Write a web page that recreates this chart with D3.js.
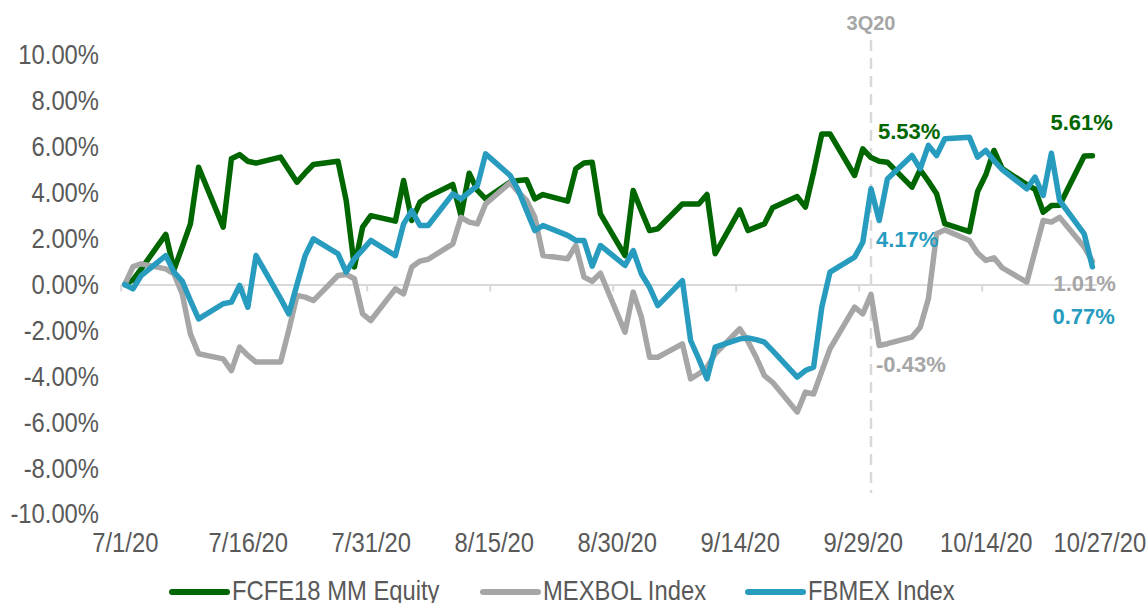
<!DOCTYPE html>
<html>
<head>
<meta charset="utf-8">
<script src="https://cdn.jsdelivr.net/npm/d3@7"></script>
<style>
  html, body { margin: 0; padding: 0; background: #ffffff; }
  svg { display: block; }
  .label { font-family: 'Liberation Sans', Arial, sans-serif; }
  .bold { font-family: 'Liberation Sans', Arial, sans-serif; font-weight: bold; }
</style>
</head>
<body>
<svg id="chart" width="1148" height="603"></svg>
<script>
// Trading days, 1 Jul 2020 – 27 Oct 2020
const dates = [
  "2020-07-01","2020-07-02","2020-07-03","2020-07-06","2020-07-07","2020-07-08","2020-07-09","2020-07-10",
  "2020-07-13","2020-07-14","2020-07-15","2020-07-16","2020-07-17","2020-07-20","2020-07-21","2020-07-22",
  "2020-07-23","2020-07-24","2020-07-27","2020-07-28","2020-07-29","2020-07-30","2020-07-31",
  "2020-08-03","2020-08-04","2020-08-05","2020-08-06","2020-08-07","2020-08-10","2020-08-11","2020-08-12",
  "2020-08-13","2020-08-14","2020-08-17","2020-08-18","2020-08-19","2020-08-20","2020-08-21","2020-08-24",
  "2020-08-25","2020-08-26","2020-08-27","2020-08-28","2020-08-31",
  "2020-09-01","2020-09-02","2020-09-03","2020-09-04","2020-09-07","2020-09-08","2020-09-09","2020-09-10",
  "2020-09-11","2020-09-14","2020-09-15","2020-09-16","2020-09-17","2020-09-18","2020-09-21","2020-09-22",
  "2020-09-23","2020-09-24","2020-09-25","2020-09-28","2020-09-29","2020-09-30",
  "2020-10-01","2020-10-02","2020-10-05","2020-10-06","2020-10-07","2020-10-08","2020-10-09","2020-10-12",
  "2020-10-13","2020-10-14","2020-10-15","2020-10-16","2020-10-19","2020-10-20","2020-10-21","2020-10-22",
  "2020-10-23","2020-10-26","2020-10-27"
];

// Cumulative return since 1 Jul 2020, in percent
const fcfe18 = [
  0, 0.2, 0.68, 2.18, 0.65, 1.63, 2.64, 5.11, 2.5, 5.48, 5.66, 5.37, 5.29, 5.55, 5.0, 4.46,
  4.86, 5.23, 5.37, 3.66, 0.76, 2.5, 3.0,
  2.76, 4.53, 2.79, 3.59, 3.83, 4.36, 3.0, 4.85, 4.1, 3.73, 4.46, 4.53, 4.56, 3.73, 3.92, 3.63,
  5.04, 5.29, 5.33, 3.08, 1.26,
  4.1, 3.2, 2.35, 2.43, 3.51, 3.51, 3.51, 3.92, 1.34, 3.25, 2.35, 2.5, 2.64, 3.34, 3.83, 3.37,
  4.9, 6.56, 6.56, 4.75, 5.91, 5.53,
  5.37, 5.33, 4.24, 5.0, 4.5, 3.95, 2.65, 2.3, 4.05, 4.78, 5.84, 5.05, 4.35, 4.15, 3.15, 3.44,
  3.45, 5.6, 5.61
];

const mexbol = [
  0, 0.78, 0.9, 0.68, 0.46, -0.4, -2.15, -3.02, -3.24, -3.75, -2.73, -3.09, -3.38, -3.38, -1.99, -0.48,
  -0.55, -0.7, 0.39, 0.44, 0.25, -1.28, -1.57,
  -0.19, -0.41, 0.76, 1.02, 1.1, 1.77, 2.93, 2.72, 2.64, 3.51, 4.44, 4.02, 3.66, 2.93, 1.26, 1.12,
  1.7, 0.32, 0.14, 0.49, -2.08,
  -0.33, -1.42, -3.17, -3.17, -2.59, -4.11, -3.89, -3.6, -3.02, -1.93, -2.48, -3.17, -3.97, -4.26, -5.56, -4.69,
  -4.77, -3.78, -2.8, -0.99, -1.28, -0.43,
  -2.66, -2.58, -2.29, -1.86, -0.62, 2.21, 2.38, 1.92, 1.37, 1.05, 1.16, 0.73, 0.1, 1.45, 2.79, 2.72,
  2.93, 1.63, 1.01
];

const fbmex = [
  0, -0.19, 0.39, 1.26, 0.54, 0.15, -0.7, -1.5, -0.84, -0.77, -0.04, -0.99, 1.26, -0.62, -1.28, 0.0,
  1.26, 1.99, 1.34, 0.54, 1.12, 1.51, 1.92,
  1.26, 2.64, 3.22, 2.57, 2.57, 3.95, 3.73, 4.02, 4.31, 5.69, 4.75, 4.1, 3.22, 2.35, 2.57, 2.14,
  1.92, 1.92, 0.8, 1.7, 0.83,
  1.48, 0.46, -0.12, -0.92, 0.17, -2.44, -3.24, -4.11, -2.73, -2.37, -2.33, -2.4, -2.51, -2.88, -4.04, -3.75,
  -3.6, -0.99, 0.54, 1.19, 1.84, 4.17,
  2.79, 4.6, 5.62, 5.04, 6.06, 5.62, 6.35, 6.42, 5.55, 5.84, 5.4, 5.01, 4.17, 4.68, 3.88, 5.72,
  3.66, 2.21, 0.77
];

const seriesNames = ["FCFE18 MM Equity", "MEXBOL Index", "FBMEX Index"];
const seriesColors = ["#006600", "#a6a6a6", "#279cbf"];
const seriesValues = [fcfe18, mexbol, fbmex];

const yTicks = [-10, -8, -6, -4, -2, 0, 2, 4, 6, 8, 10];
const xTickDates = ["2020-07-01","2020-07-16","2020-07-31","2020-08-15","2020-08-30","2020-09-14","2020-09-29","2020-10-14","2020-10-27"];
const xTickLabels = ["7/1/20","7/16/20","7/31/20","8/15/20","8/30/20","9/14/20","9/29/20","10/14/20","10/27/20"];
const quarterEnd = "2020-09-30";
const quarterLabel = "3Q20";

// ---- scales ----
const parseDay = d3.timeParse("%Y-%m-%d");
const midday = s => d3.timeHour.offset(parseDay(s), 12);

const x = d3.scaleTime()
  .domain([parseDay("2020-07-01"), parseDay("2020-10-28")])
  .range([120.7, 1096.5]);
const y = d3.scaleLinear().domain([-10, 10]).range([514, 55]);

const pct = v => v.toFixed(2) + "%";
const NARROW = "scale(0.85,1)";   // condensed axis / legend lettering
const svg = d3.select("#chart");

// ---- y axis labels ----
const yAxis = svg.append("g")
  .attr("class", "label")
  .attr("transform", "translate(99,0)")
  .call(d3.axisLeft(y).tickValues(yTicks).tickSize(0).tickPadding(0).tickFormat(pct));
yAxis.select(".domain").remove();
yAxis.selectAll("text")
  .attr("font-size", 28).attr("fill", "#595959")
  .attr("font-family", null)
  .attr("transform", NARROW);

// ---- zero line with day-boundary ticks ----
const zeroAxis = svg.append("g")
  .attr("transform", `translate(0,${y(0)})`)
  .call(d3.axisBottom(x)
    .tickValues(xTickDates.slice(0, -1).map(parseDay))
    .tickSize(7).tickSizeOuter(0).tickFormat(""));
zeroAxis.select(".domain").attr("stroke", "#d9d9d9").attr("stroke-width", 2);
zeroAxis.selectAll(".tick line").attr("stroke", "#d9d9d9").attr("stroke-width", 2);

// ---- x axis labels ----
const xAxis = svg.append("g")
  .attr("class", "label")
  .attr("transform", "translate(0,532)")
  .call(d3.axisBottom(x)
    .tickValues(xTickDates.map(midday))
    .tickSize(0).tickPadding(0)
    .tickFormat((d, i) => xTickLabels[i]));
xAxis.select(".domain").remove();
xAxis.selectAll("text")
  .attr("font-size", 28).attr("fill", "#595959")
  .attr("font-family", null)
  .attr("dy", "0.72em")
  .attr("transform", (d, i) => (i === xTickLabels.length - 1 ? "translate(7,0) " : "") + NARROW);

// ---- quarter-end marker ----
const qx = x(midday(quarterEnd));
svg.append("line")
  .attr("x1", qx).attr("x2", qx)
  .attr("y1", 40).attr("y2", 493)
  .attr("stroke", "#d9d9d9").attr("stroke-width", 2.5)
  .attr("stroke-dasharray", "11,7");
svg.append("text")
  .attr("class", "bold")
  .attr("x", qx).attr("y", 30)
  .attr("text-anchor", "middle")
  .attr("font-size", 20).attr("fill", "#a6a6a6")
  .text(quarterLabel);

// ---- series lines ----
const line = d3.line()
  .x(d => x(d.date))
  .y(d => y(d.value));

seriesValues.forEach((vals, s) => {
  const pts = dates.map((dt, i) => ({ date: midday(dt), value: vals[i] }));
  svg.append("path")
    .datum(pts)
    .attr("fill", "none")
    .attr("stroke", seriesColors[s])
    .attr("stroke-width", 5.5)
    .attr("stroke-linejoin", "round")
    .attr("stroke-linecap", "round")
    .attr("d", line);
});

// ---- value labels at quarter end and at the last date ----
const qi = dates.indexOf(quarterEnd);
const li = dates.length - 1;
const lastX = x(midday(dates[li]));
const valueLabels = [
  { s: 0, i: qi, x: qx + 7,     y: 131 },
  { s: 2, i: qi, x: qx + 5,     y: 239 },
  { s: 1, i: qi, x: qx + 5,     y: 364 },
  { s: 0, i: li, x: lastX - 42, y: 122 },
  { s: 1, i: li, x: lastX - 39, y: 283 },
  { s: 2, i: li, x: lastX - 40, y: 316 }
];
svg.selectAll("text.value")
  .data(valueLabels)
  .join("text")
  .attr("class", "value bold")
  .attr("x", d => d.x)
  .attr("y", d => d.y)
  .attr("dy", "0.36em")
  .attr("font-size", 22)
  .attr("fill", d => seriesColors[d.s])
  .text(d => pct(seriesValues[d.s][d.i]));

// ---- legend ----
const legendX = [172, 483, 748];
const legend = svg.append("g").attr("class", "label");
seriesNames.forEach((name, s) => {
  legend.append("line")
    .attr("x1", legendX[s]).attr("x2", legendX[s] + 55)
    .attr("y1", 592).attr("y2", 592)
    .attr("stroke", seriesColors[s]).attr("stroke-width", 6)
    .attr("stroke-linecap", "round");
  legend.append("text")
    .attr("transform", `translate(${legendX[s] + 60},600) ${NARROW}`)
    .attr("font-size", 28).attr("fill", "#595959")
    .text(name);
});
</script>
</body>
</html>
